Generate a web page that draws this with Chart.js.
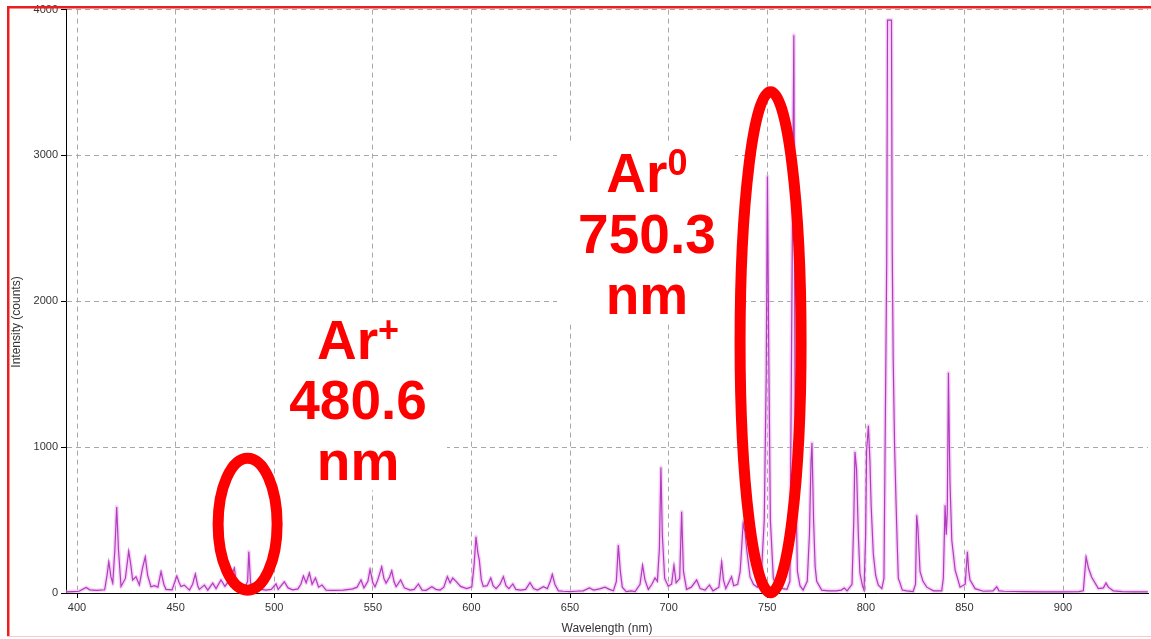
<!DOCTYPE html>
<html><head><meta charset="utf-8">
<script src="https://cdn.jsdelivr.net/npm/chart.js@4.4.1/dist/chart.umd.min.js"></script>
<style>
html,body{margin:0;padding:0;background:#fff;overflow:hidden}
#wrap{position:relative;width:1151px;height:639px;background:#fff}
</style></head>
<body><div id="wrap"><canvas id="c" width="1151" height="639"></canvas></div>
<script>
// ---- data ----
const wavelengths = [
394.4,398,401,404.6,406.5,410,414,415.2,416.1,417.2,418.1,419.2,420.1,421.0,422.3,424.5,426.2,427.2,428.2,429.9,
431.6,433.2,434.6,435.8,437.5,439.2,441.0,442.6,444.0,445.1,448.2,450.6,451.8,452.7,454.4,457,458.6,460.0,461.2,462,
464.6,466.3,468.8,470.5,473,475,477.3,479.8,481,482.3,485,486.5,487.1,488,489.1,491.6,493.5,495.8,498.5,500.9,
502,505.1,507,509.4,512,513.5,514.8,516.2,517.8,519.2,520.9,522.5,524.2,526.3,530,535,539.8,542,544,545.5,
547.5,548.6,550,551.1,552.5,554.5,555.6,556.7,558.5,559.6,560.7,561.8,564.1,566,568.9,571,573.1,575,577,579.9,
582,584.1,586,587.8,589.2,590.5,592.2,594.5,597.6,600.2,601.4,602.3,603.2,604,605,606,608,609.8,611,612.5,
614.5,616.2,617.5,619,621,622.5,625,627.5,629.7,631.5,633.5,636.5,638.5,640,641,642.3,644.1,646.6,650,653,
656.7,659.8,662,665,667.7,670,672,673.5,674.5,675.5,676.5,678.5,681,683,685.5,686.8,688,689.7,691.5,693.1,
694.3,695.3,696.1,696.8,698,699.8,701.5,702.7,703.8,705.6,706.6,707.5,709.1,711.5,714.2,716,718.5,720.7,722.5,725.5,
726.9,727.8,729,731.9,733,735,736.3,737.8,738.7,739.6,741.3,743,745,747,748.5,749.5,750.1,750.8,751.6,753.1,
755,758,760,761.5,762.4,763.5,764.2,765.3,766.6,768.2,770.3,771.4,772.2,772.7,773.5,774.3,775.1,777.6,781,785,
787.5,789.1,790.5,793,793.9,794.5,795.3,796.2,797,798.3,799.1,799.9,800.4,801.3,802.1,802.7,803.8,805,806.3,808.1,
809.2,809.9,810.6,811.0,813.0,813.4,813.9,814.6,815.3,816.0,816.5,817.3,818.5,820.7,824,825.2,825.8,826.4,827.5,829,
830.9,834.3,838.5,839.3,840.2,840.8,841.3,841.9,842.4,842.7,843.6,845.3,847.8,850.4,851.5,852.2,852.8,855.4,859.6,864.5,
866.4,867.5,870,880,890,900,908,910.3,911.7,912.9,914.5,917.9,920.5,921.8,923,925.5,930,936,943
];
const intensities = [
8,10,12,38,22,18,22,120,214,110,68,300,590,300,45,100,287,200,89,111,
55,170,248,120,43,50,40,146,60,25,22,116,70,45,54,20,60,130,50,25,
54,20,68,30,89,45,90,171,40,20,30,80,283,70,40,55,25,20,25,62,
25,77,35,22,28,60,116,70,137,60,103,40,55,20,18,20,28,40,89,35,
80,162,70,43,90,180,100,68,110,153,80,43,89,35,20,25,62,20,18,43,
25,20,40,112,70,103,80,45,30,43,200,385,280,225,90,45,50,103,50,30,
60,112,50,30,62,25,20,25,71,30,20,43,30,80,128,60,15,12,10,12,
15,35,20,28,40,25,15,80,328,150,40,10,15,10,60,191,90,25,60,103,
80,300,860,400,100,47,60,191,70,100,557,150,25,40,89,30,20,55,15,40,
214,90,30,112,50,60,150,478,420,300,110,60,40,120,500,1500,2855,1600,500,100,
40,30,25,80,1800,3824,1000,150,50,20,80,400,900,1029,500,180,80,20,15,15,
20,34,15,60,500,966,850,400,137,50,20,400,978,1147,900,600,267,120,55,30,
100,1190,2267,3928,3928,2345,1583,1000,636,300,100,70,20,15,10,60,533,450,146,80,
40,15,15,100,601,400,550,1510,1000,752,362,157,40,60,282,150,90,30,12,15,
43,15,12,10,8,8,10,15,248,171,110,30,35,68,40,15,10,8,8
];
const xTickValues = [400,450,500,550,600,650,700,750,800,850,900];
const yTickValues = [0,1000,2000,3000,4000];
const xAxisTitle = 'Wavelength (nm)';
const yAxisTitle = 'Intensity (counts)';
// annotation texts: [main, superscript]
const labelArPlus = [['Ar','+'],['480.6',''],['nm','']];
const labelAr0 = [['Ar','0'],['750.3',''],['nm','']];

const points = wavelengths.map((w,i)=>({x:w,y:intensities[i]}));

const FONT = '"Liberation Sans", Arial, sans-serif';

const overlay = {
  id:'overlay',
  beforeDatasetsDraw(chart){
    const {ctx, scales:{x,y}} = chart;
    ctx.save();
    ctx.fillStyle = '#fff';
    const box = (x0,x1,y0,y1)=>{
      const a = x.getPixelForValue(x0), b = x.getPixelForValue(x1);
      const c = y.getPixelForValue(y1), d = y.getPixelForValue(y0);
      ctx.fillRect(a,c,b-a,d-c);
    };
    box(500.6,587.6,704,1969);
    box(643.4,733.7,1846,3097);
    ctx.restore();
  },
  afterDraw(chart){
    const {ctx, scales:{x,y}, chartArea} = chart;
    ctx.save();
    ctx.strokeStyle = '#ff0000';
    ctx.lineWidth = 11;
    const ell = (cx,cy,rx,ry)=>{
      ctx.beginPath();
      ctx.ellipse(x.getPixelForValue(cx), y.getPixelForValue(cy), rx, ry, 0, 0, Math.PI*2);
      ctx.stroke();
    };
    ell(486.5,472,29.5,66);
    ell(751.7,1720,30.5,250.5);
    ctx.fillStyle = '#ff0000';
    ctx.textBaseline = 'alphabetic';
    ctx.textAlign = 'left';
    const block = (lines, cxVal, baseVals)=>{
      const cx = x.getPixelForValue(cxVal);
      lines.forEach((ln,i)=>{
        const by = y.getPixelForValue(baseVals[i]);
        ctx.font = 'bold 55px ' + FONT;
        const w1 = ctx.measureText(ln[0]).width;
        ctx.font = 'bold 36px ' + FONT;
        const w2 = ln[1] ? ctx.measureText(ln[1]).width : 0;
        const start = cx - (w1+w2)/2;
        ctx.font = 'bold 55px ' + FONT;
        ctx.fillText(ln[0], start, by);
        if (ln[1]) {
          ctx.font = 'bold 36px ' + FONT;
          ctx.fillText(ln[1], start + w1, by - 17);
        }
      });
    };
    block(labelArPlus, 542.5, [1607,1190,773]);
    block(labelAr0, 689.0, [2749,2332,1915]);
    ctx.fillStyle = '#333';
    ctx.font = '12px ' + FONT;
    ctx.textAlign = 'center';
    ctx.textBaseline = 'middle';
    ctx.fillText(xAxisTitle, (chartArea.left+chartArea.right)/2, 629);
    ctx.save();
    ctx.translate(17, 322);
    ctx.rotate(-Math.PI/2);
    ctx.fillText(yAxisTitle, 0, 0);
    ctx.restore();
    ctx.fillStyle = '#ee1c1c';
    ctx.fillRect(7,6,1144,2.5);
    ctx.fillRect(7,6,2.5,631);
    ctx.fillStyle = '#ffc8c8';
    ctx.fillRect(7,636,1144,1);
    ctx.restore();
  }
};

new Chart(document.getElementById('c'), {
  type:'line',
  data:{datasets:[
    {data:points, borderColor:'rgba(236,170,236,0.5)', borderWidth:4, borderJoinStyle:'round', pointRadius:0, tension:0, order:2},
    {data:points, borderColor:'#b23cbf', borderWidth:1.2, pointRadius:0, tension:0, order:1}
  ]},
  options:{
    responsive:false, animation:false, devicePixelRatio:1,
    plugins:{legend:{display:false}, tooltip:{enabled:false}},
    layout:{padding:{left:0,right:3,top:8,bottom:0}},
    scales:{
      x:{type:'linear', min:394.4, max:943.1,
        afterBuildTicks:s=>{s.ticks = xTickValues.map(v=>({value:v}));},
        afterFit:s=>{s.height = 46;},
        grid:{color:'#a8a8a8', lineWidth:1, drawTicks:true, tickLength:5, tickColor:'#000'},
        border:{display:true, color:'#000', width:1, dash:[5,4]},
        ticks:{color:'#333', font:{family:FONT, size:11}, padding:3, maxRotation:0, autoSkip:false,
          callback:v=>String(v)}
      },
      y:{type:'linear', min:0, max:4000,
        afterBuildTicks:s=>{s.ticks = yTickValues.map(v=>({value:v}));},
        afterFit:s=>{s.width = 66;},
        grid:{color:'#a8a8a8', lineWidth:1, drawTicks:true, tickLength:5, tickColor:'#000'},
        border:{display:true, color:'#000', width:1, dash:[5,4]},
        ticks:{color:'#333', font:{family:FONT, size:11}, padding:3, callback:v=>String(v)}
      }
    }
  },
  plugins:[overlay]
});
</script>
</body></html>
